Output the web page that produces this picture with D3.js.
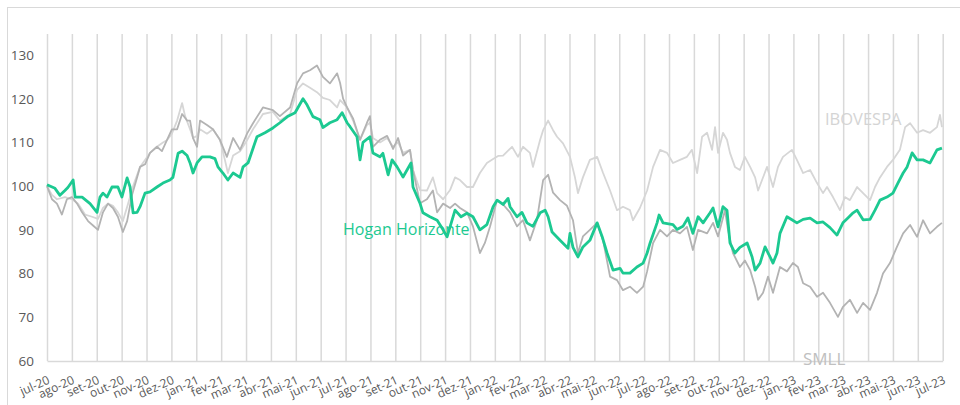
<!DOCTYPE html>
<html><head><meta charset="utf-8">
<script src="https://cdn.jsdelivr.net/npm/d3@7/dist/d3.min.js"></script>
<style>
html,body{margin:0;padding:0;background:#fff;}
svg{display:block;font-family:"Open Sans",sans-serif;}
</style></head>
<body>
<svg id="chart" width="960" height="405"></svg>
<script>
// month labels (one per month, jul-20 .. jul-23)
const monthLabels = ["jul-20","ago-20","set-20","out-20","nov-20","dez-20","jan-21","fev-21","mar-21","abr-21","mai-21","jun-21",
  "jul-21","ago-21","set-21","out-21","nov-21","dez-21","jan-22","fev-22","mar-22","abr-22","mai-22","jun-22",
  "jul-22","ago-22","set-22","out-22","nov-22","dez-22","jan-23","fev-23","mar-23","abr-23","mai-23","jun-23","jul-23"];
const yTicks = [60,70,80,90,100,110,120,130];

// [months since jul-20, index value]
const hogan = [[0,100.3],[0.32,99.5],[0.52,97.9],[0.72,99],[0.84,99.7],[1.05,101.4],[1.13,97.5],[1.41,97.5],[1.73,96],[2.01,94],
[2.13,97.5],[2.25,98.4],[2.41,97.5],[2.61,99.8],[2.85,99.8],[3.01,97.5],[3.22,101.9],[3.34,99.8],[3.46,93.9],[3.62,94],
[3.74,95.3],[3.94,98.4],[4.14,98.7],[4.42,99.8],[4.66,100.7],[4.94,101.4],[5.06,102],[5.27,107.5],[5.43,108],[5.63,107],
[5.75,105.3],[5.87,103],[6.03,105.3],[6.23,106.7],[6.55,106.7],[6.75,106.3],[6.87,104.4],[7.07,103],[7.27,101.4],[7.48,103],
[7.76,102],[7.88,104.4],[8.08,105.3],[8.44,111.3],[8.76,112.2],[9.08,113.3],[9.36,114.5],[9.69,116],[9.97,116.8],[10.29,120],
[10.45,118.6],[10.69,115.9],[10.97,115.2],[11.09,113.4],[11.37,114.5],[11.66,115.2],[11.86,116.8],[12.06,114.5],[12.18,113.6],[12.46,111.3],
[12.58,106],[12.70,110],[12.98,111.3],[13.10,107.6],[13.38,106.7],[13.50,107.5],[13.71,102.6],[13.87,106],[14.07,104.4],[14.31,102.1],
[14.47,103.7],[14.63,105.3],[14.71,99.8],[14.99,96.1],[15.11,93.9],[15.39,93],[15.68,92.2],[15.92,90],[16.08,88.4],[16.40,94.5],
[16.64,93],[16.88,93.8],[17.12,93],[17.40,90],[17.68,91.2],[17.93,95.3],[18.09,96.8],[18.33,95.8],[18.53,97.2],[18.61,95.3],
[18.89,93],[19.09,94],[19.29,91.6],[19.53,90.8],[19.82,93.9],[20.02,94.5],[20.14,93],[20.30,89.5],[20.62,87.6],[20.94,85.8],
[21.02,89.2],[21.14,86],[21.34,83.8],[21.54,86.1],[21.82,87.6],[22.11,91.6],[22.31,88.5],[22.51,84.7],[22.75,80.8],[23.03,81.2],
[23.15,80.1],[23.43,80.1],[23.71,81.5],[23.96,82.4],[24.12,84.7],[24.24,87],[24.52,91.6],[24.60,93.4],[24.76,91.6],[25.16,91.2],
[25.32,90.1],[25.56,90.8],[25.76,92.7],[25.96,89.2],[26.17,93],[26.37,91.6],[26.65,93.9],[26.77,95],[26.97,90.7],[27.17,95.3],
[27.33,94.5],[27.45,87],[27.65,84.7],[27.85,86],[28.14,87],[28.34,83.8],[28.46,80.8],[28.66,82.4],[28.86,86.1],[29.06,83.8],
[29.18,82.4],[29.34,84.7],[29.46,89.2],[29.74,93],[29.94,92.3],[30.14,91.6],[30.39,92.4],[30.67,92.7],[30.95,91.6],[31.19,91.8],
[31.47,90.5],[31.75,88.8],[31.99,91.6],[32.19,92.7],[32.40,93.9],[32.56,94.5],[32.80,92.3],[33.08,92.4],[33.28,94.5],[33.48,96.8],
[33.76,97.5],[34.00,98.4],[34.20,100.7],[34.41,103],[34.57,104.4],[34.77,107.6],[34.97,106],[35.21,106],[35.49,105.3],[35.77,108.3],[35.97,108.7]];

const ibovespa = [[0,100],[0.20,98],[0.40,97],[0.72,97.5],[1.00,97],[1.25,96],[1.53,93.5],[1.81,93],[2.05,92.5],[2.25,95],
[2.45,96],[2.65,95.5],[2.85,94],[3.05,92],[3.26,96],[3.46,100],[3.74,104.4],[3.94,106],[4.14,107.6],[4.42,109],
[4.66,110],[4.82,110.5],[5.02,112],[5.23,115],[5.43,119],[5.55,116],[5.75,113],[5.87,111],[6.03,111.5],[6.15,113],
[6.43,112],[6.67,113],[6.95,110.6],[7.15,106],[7.27,103],[7.48,107],[7.76,108],[8.04,110.5],[8.28,113],[8.68,116.5],
[9.08,117],[9.36,115],[9.77,116.5],[10.05,122],[10.29,123.5],[10.57,122.5],[10.85,121.5],[11.09,120.2],[11.37,119.7],[11.66,118],
[11.78,119.7],[12.06,118],[12.30,115],[12.58,110.6],[12.86,114],[12.98,114.5],[13.10,111],[13.38,110],[13.67,111],[13.91,109],
[14.11,110],[14.31,107.6],[14.59,108.3],[14.71,103.7],[14.99,99.1],[15.27,99],[15.51,102],[15.68,98.4],[15.92,97],[16.20,99.1],
[16.40,102],[16.60,101.4],[16.88,99.8],[17.12,99.8],[17.40,103],[17.68,105.3],[17.93,106.2],[18.13,106.9],[18.33,107],[18.69,109],
[18.93,106.7],[19.13,109],[19.41,107.6],[19.53,104.4],[19.82,110.6],[19.94,112.8],[20.14,115],[20.34,112.8],[20.50,111.3],[20.74,109.8],
[21.02,106.7],[21.22,102],[21.34,98.4],[21.54,102],[21.82,106],[22.11,106.7],[22.35,103],[22.63,99],[22.91,94.5],[23.15,95.3],
[23.43,94.5],[23.55,92.2],[23.83,95],[24.12,99],[24.36,104.4],[24.64,108.3],[24.92,107.6],[25.16,105.3],[25.44,106],[25.72,106.7],
[25.92,108.3],[26.13,103],[26.33,111.3],[26.53,112.2],[26.73,108.3],[26.85,113.5],[26.97,107.6],[27.17,112.2],[27.33,110.6],[27.45,107.6],
[27.65,104.4],[27.85,103.7],[28.05,106.7],[28.26,104.4],[28.46,102],[28.58,99],[28.74,101.4],[28.94,104.4],[29.18,99.8],[29.38,104.4],
[29.58,106.7],[29.94,108.3],[30.14,106],[30.39,103],[30.67,103.7],[30.95,100.7],[31.19,98.4],[31.35,99.8],[31.59,97.5],[31.87,94.5],
[32.07,97.5],[32.27,96.8],[32.56,99.8],[32.80,98.4],[33.08,96.8],[33.28,99.8],[33.48,102],[33.76,104.4],[34.00,106],[34.28,108.3],
[34.49,113.5],[34.69,114.4],[34.97,112.2],[35.21,112.8],[35.49,112.2],[35.77,113.5],[35.89,116.3],[35.97,113.5]];

const smll = [[0,100],[0.20,97],[0.40,96],[0.60,93.5],[0.80,97],[1.00,97.5],[1.21,96],[1.41,94],[1.65,92],[1.85,91],
[2.05,90],[2.25,94],[2.45,96],[2.65,95],[2.85,93],[3.05,89.5],[3.22,92],[3.42,98],[3.62,102],[3.74,104.4],
[3.94,105],[4.14,107.6],[4.42,109],[4.62,108],[4.82,110.5],[5.02,113],[5.23,113],[5.43,116.5],[5.63,115],[5.75,115],
[5.87,111],[6.03,109],[6.15,115],[6.43,114],[6.67,113],[6.95,110.6],[7.23,106.7],[7.48,111],[7.76,108.3],[8.04,112],
[8.28,114.4],[8.68,118],[9.08,117.4],[9.36,116],[9.77,118],[10.05,123.5],[10.29,125.8],[10.57,126.5],[10.85,127.6],[11.09,125],
[11.37,123.5],[11.66,125.8],[11.78,123.6],[11.90,120],[12.06,118],[12.30,115.5],[12.58,110.6],[12.86,114.5],[12.98,116],[13.10,109],
[13.38,110.6],[13.67,111.5],[13.91,108.5],[14.11,111],[14.31,107],[14.59,108.3],[14.71,103.7],[14.99,96.1],[15.27,97],[15.51,99],
[15.68,94],[15.92,96],[16.20,95],[16.40,96],[16.60,95],[16.88,94],[17.12,90.8],[17.40,84.7],[17.60,87],[17.81,90.8],
[18.09,96.8],[18.33,95.8],[18.61,94],[18.89,90.8],[19.13,92.2],[19.41,87.6],[19.69,92.2],[19.94,101.4],[20.14,102.6],[20.34,98.5],
[20.62,96.8],[20.90,95.5],[21.14,92.2],[21.34,84.7],[21.54,88.5],[21.82,90],[22.11,91.6],[22.35,87.6],[22.63,79.3],[22.91,78.5],
[23.15,76.2],[23.43,77],[23.71,75.6],[23.96,77],[24.12,80.5],[24.36,87],[24.64,90],[24.92,88.5],[25.16,90],[25.44,89.2],
[25.72,90.7],[25.96,85.4],[26.17,90],[26.53,89.2],[26.77,91.6],[26.97,88.5],[27.25,94.5],[27.37,90],[27.57,84.7],[27.85,81.5],
[28.05,83],[28.26,80.8],[28.46,77],[28.58,74],[28.78,75.6],[28.98,79.3],[29.18,75.6],[29.46,81.5],[29.74,80.5],[29.98,82.4],
[30.18,81.5],[30.39,77.8],[30.67,77],[30.95,74.7],[31.19,75.6],[31.47,73.3],[31.79,70.1],[31.99,72.4],[32.27,74],[32.56,71],
[32.80,73.3],[33.08,71.7],[33.36,75.6],[33.60,80],[33.88,82.4],[34.16,86.1],[34.41,89.2],[34.69,91.1],[34.97,88.4],[35.21,92.2],
[35.49,89.2],[35.77,90.7],[35.97,91.6]];

const svg = d3.select("#chart");
const plot = {left:47, right:942.7, top:34, bottom:361};
const x = d3.scaleLinear().domain([0, monthLabels.length-1]).range([plot.left, plot.right]);
const y = d3.scaleLinear().domain([60, 134.8]).range([plot.bottom, plot.top]);

// outer frame
svg.append("rect").attr("x",7.5).attr("y",7.5).attr("width",1000).attr("height",500)
  .attr("fill","none").attr("stroke","#d9d9d9").attr("stroke-width",1);

// vertical gridlines + rotated month labels via axis
const xAxis = d3.axisBottom(x).tickValues(d3.range(monthLabels.length))
  .tickFormat(i => monthLabels[i]).tickSize(-(plot.bottom-plot.top)).tickSizeOuter(0);
const gx = svg.append("g").attr("transform",`translate(0,${plot.bottom})`).call(xAxis);
gx.select(".domain").attr("stroke","#d9d9d9").attr("stroke-width",1.5);
gx.selectAll(".tick line").attr("stroke","#d9d9d9").attr("stroke-width",1.5);
gx.selectAll(".tick text")
  .attr("fill","#595959").attr("font-size","12px").attr("font-family","Open Sans, sans-serif")
  .attr("text-anchor","end").attr("y",0).attr("dy",0)
  .attr("transform","translate(3,22) rotate(-24)");

// y axis labels
const yAxis = d3.axisLeft(y).tickValues(yTicks).tickSize(0).tickPadding(0);
const gy = svg.append("g").attr("transform",`translate(34,0)`).call(yAxis);
gy.select(".domain").remove();
gy.selectAll(".tick text").attr("fill","#595959").attr("font-size","13.5px").attr("font-family","Open Sans, sans-serif");

const line = d3.line().x(d=>x(d[0])).y(d=>y(d[1]));

svg.append("path").datum(ibovespa).attr("d",line).attr("fill","none")
  .attr("stroke","#d6d6d6").attr("stroke-width",1.8).attr("stroke-linejoin","round");
svg.append("path").datum(smll).attr("d",line).attr("fill","none")
  .attr("stroke","#b3b3b3").attr("stroke-width",1.8).attr("stroke-linejoin","round");
svg.append("path").datum(hogan).attr("d",line).attr("fill","none")
  .attr("stroke","#1cc991").attr("stroke-width",2.8).attr("stroke-linejoin","round");

// series labels
svg.append("text").attr("x",343).attr("y",235).text("Hogan Horizonte")
  .attr("fill","#1cc991").attr("font-size","16px").attr("font-family","Open Sans, sans-serif");
svg.append("text").attr("x",825).attr("y",125).text("IBOVESPA")
  .attr("fill","#d4d4d4").attr("font-size","16.5px").attr("font-family","Open Sans, sans-serif");
svg.append("text").attr("x",803).attr("y",365).text("SMLL")
  .attr("fill","#c0c0c0").attr("font-size","17px").attr("font-family","Open Sans, sans-serif");
</script>
</body></html>
